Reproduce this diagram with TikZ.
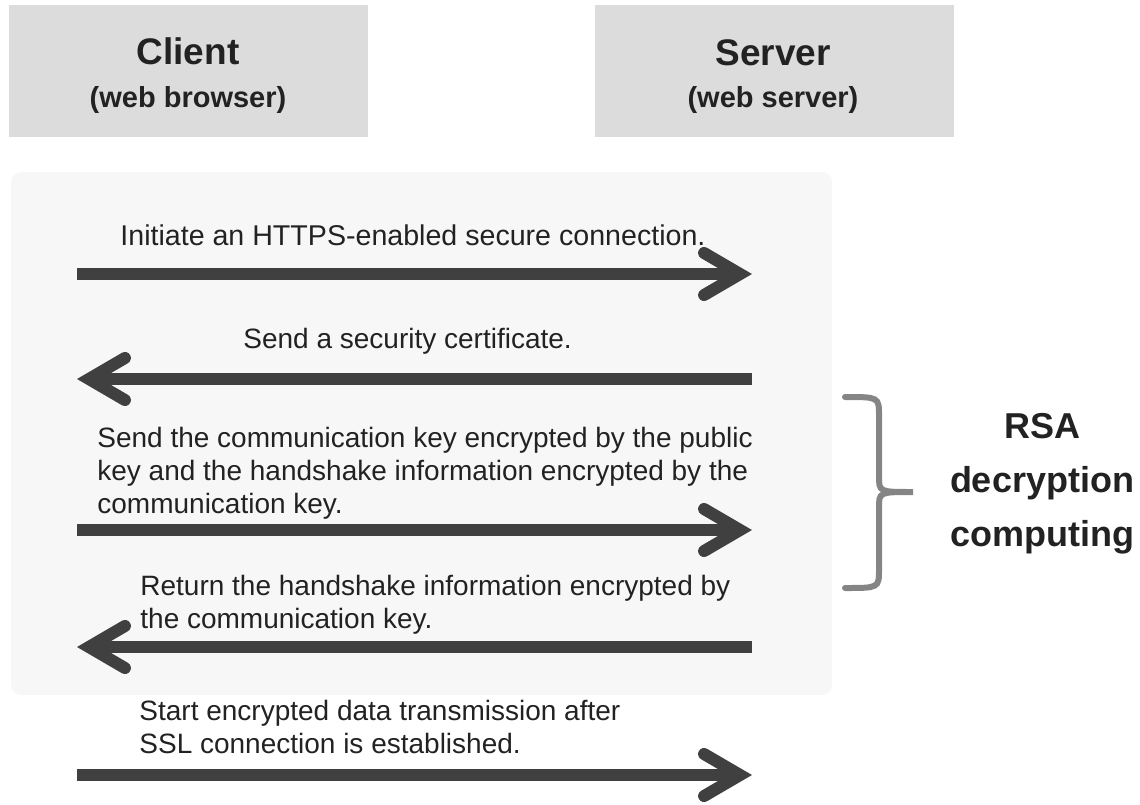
\documentclass[tikz,border=0pt]{standalone}
\usepackage{fontspec}
\setmainfont{Liberation Sans}
\usepackage{xcolor}
\usepackage{tikz}
\usetikzlibrary{arrows.meta, positioning}

\definecolor{headgray}{HTML}{DCDCDC}
\definecolor{panelgray}{HTML}{F7F7F7}
\definecolor{arrowgray}{HTML}{404040}
\definecolor{bracegray}{HTML}{858585}
\definecolor{textdark}{HTML}{222222}

\tikzset{
    headbox/.style={fill=headgray, minimum width=179.5pt, minimum height=66pt, inner sep=0pt},
    headtitle/.style={anchor=base, inner sep=0pt, text=textdark, font=\fontsize{18.5}{22}\selectfont\bfseries},
    headsub/.style={anchor=base, inner sep=0pt, text=textdark, font=\fontsize{14.5}{17}\selectfont\bfseries},
    msgtext/.style={anchor=base west, align=left, inner sep=0pt, text=textdark, font=\fontsize{14}{16.5}\selectfont},
    msg/.style={draw=arrowgray, line width=6pt, ->},
}

\begin{document}
\begin{tikzpicture}[x=0.5pt, y=-0.5pt, >={Straight Barb[length=18pt, width=21pt, line cap=round, line join=miter]}]
    \useasboundingbox (0,0) rectangle (1140,804);

    % Header boxes
    \node[headbox] (client) at (188.5,71) {};
    \node[headbox] (server) at (774.5,71) {};
    \node[headtitle] (clientT) at (188,64) {Client};
    \node[headsub] (clientS) at (188,107) {(web browser)};
    \node[headtitle] (serverT) at (773,65) {Server};
    \node[headsub] (serverS) at (773,107) {(web server)};

    % Handshake panel
    \fill[panelgray, rounded corners=5pt] (11,172) rectangle (832,695);

    % Message arrows
    \foreach \i/\y/\from/\to in {1/274/L/R, 2/379/R/L, 3/530/L/R, 4/647/R/L, 5/775/L/R} {
        \coordinate (msgL\i) at (77,\y);
        \coordinate (msgR\i) at (752,\y);
        \draw[msg] (msg\from\i) -- (msg\to\i);
    }

    % Message texts (anchored at the baseline of the last line)
    \node[msgtext, font=\fontsize{14.3}{16.5}\selectfont] (txt1) at (120,245) {Initiate an HTTPS-enabled secure connection.};
    \node[msgtext] (txt2) at (243,348) {Send a security certificate.};
    \node[msgtext] (txt3) at (97,513) {Send the communication key encrypted by the public\\key and the handshake information encrypted by the\\communication key.};
    \node[msgtext] (txt4) at (140,628) {Return the handshake information encrypted by\\the communication key.};
    \node[msgtext] (txt5) at (139,753) {Start encrypted data transmission after\\SSL connection is established.};

    % Brace
    \draw[bracegray, line width=3pt, line cap=round]
        (845,397) .. controls (879,397) .. (879,416) -- (879,476)
        .. controls (879,492) .. (913,492)
        .. controls (879,492) .. (879,508) -- (879,569)
        .. controls (879,588) .. (845,588);
    \node[anchor=base, align=center, inner sep=0pt, text=textdark, font=\fontsize{18}{27}\selectfont\bfseries] (rsa) at (1042,546) {RSA\\decryption\\computing};
\end{tikzpicture}
\end{document}
